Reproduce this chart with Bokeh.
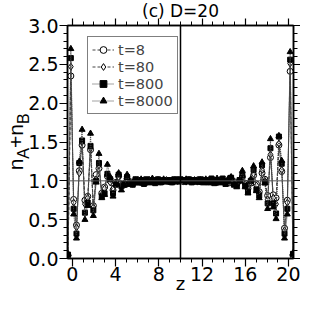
from bokeh.plotting import figure
from bokeh.models import (Range1d, LinearAxis, SingleIntervalTicker, FixedTicker, PrintfTickFormatter,
                          CustomJSTickFormatter, Span, Legend, LegendItem)
from bokeh.embed import file_html
from bokeh.resources import INLINE

# ---- data ----
z = [-0.40, -0.14, 0.12, 0.38, 0.64, 0.90, 1.16, 1.42, 1.68, 1.94,
     2.20, 2.46, 2.72, 2.98, 3.24, 3.50, 3.76, 4.02, 4.28, 4.54,
     4.80, 5.06, 5.32, 5.58, 5.84, 6.10, 6.36, 6.62, 6.88, 7.14,
     7.40, 7.66, 7.92, 8.18, 8.44, 8.70, 8.96, 9.22, 9.48, 9.74,
     10.00, 10.26, 10.52, 10.78, 11.04, 11.30, 11.56, 11.82, 12.08, 12.34,
     12.60, 12.86, 13.12, 13.38, 13.64, 13.90, 14.16, 14.42, 14.68, 14.94,
     15.20, 15.46, 15.72, 15.98, 16.24, 16.50, 16.76, 17.02, 17.28, 17.54,
     17.80, 18.06, 18.32, 18.58, 18.84, 19.10, 19.36, 19.62, 19.88, 20.14,
     20.40]

n_t8 = [0.04, 2.35, 0.76, 0.43, 1.13, 1.46, 0.75, 0.80, 1.40, 0.68,
        1.08, 1.16, 0.84, 0.92, 1.06, 1.00, 0.88, 0.98, 1.06, 0.96,
        0.95, 1.03, 0.99, 0.96, 1.01, 1.00, 0.98, 1.01, 0.99, 1.00,
        0.99, 1.00, 1.00, 0.99, 1.00, 1.00, 0.99, 1.00, 1.01, 1.00,
        1.00, 0.99, 1.00, 1.00, 0.99, 1.00, 1.01, 0.99, 1.00, 1.00,
        0.99, 1.00, 1.01, 0.98, 1.00, 1.01, 0.99, 0.97, 1.03, 0.99,
        0.95, 1.00, 1.05, 0.97, 0.90, 0.97, 1.07, 0.96, 0.86, 1.10,
        1.02, 0.81, 1.30, 0.82, 0.78, 1.46, 1.12, 0.39, 0.75, 2.41,
        0.04]

n_t80 = [0.05, 2.47, 0.72, 0.40, 1.10, 1.50, 0.70, 0.78, 1.42, 0.66,
         1.02, 1.20, 0.82, 0.90, 1.08, 0.98, 0.90, 0.97, 1.05, 0.95,
         0.97, 1.02, 0.98, 0.97, 1.00, 1.01, 0.99, 1.00, 0.98, 1.01,
         1.00, 0.99, 1.01, 0.99, 1.00, 1.01, 1.00, 0.99, 1.00, 1.00,
         1.01, 1.00, 0.99, 1.01, 1.00, 1.00, 0.99, 1.00, 1.01, 0.99,
         1.00, 1.01, 1.00, 0.99, 1.01, 1.00, 0.98, 0.98, 1.02, 0.98,
         0.96, 1.00, 1.06, 0.96, 0.89, 0.98, 1.09, 0.94, 0.84, 1.14,
         1.00, 0.76, 1.34, 0.78, 0.70, 1.48, 1.14, 0.36, 0.72, 2.51,
         0.05]

n_t800 = [0.05, 2.58, 0.64, 0.32, 1.23, 1.52, 0.59, 0.72, 1.45, 0.62,
          1.00, 1.23, 0.80, 0.84, 1.09, 1.02, 0.84, 0.95, 1.08, 0.93,
          0.96, 1.05, 0.97, 0.95, 1.02, 0.98, 1.01, 0.96, 1.02, 0.99,
          1.01, 0.97, 1.02, 0.98, 1.01, 0.99, 1.01, 0.98, 1.02, 0.99,
          1.02, 1.01, 0.99, 1.02, 0.98, 1.01, 0.99, 1.02, 0.98, 1.01,
          0.99, 1.03, 0.97, 1.01, 0.99, 1.03, 0.96, 1.00, 1.04, 0.95,
          0.94, 1.01, 1.07, 0.94, 0.86, 1.00, 1.14, 0.89, 0.81, 1.20,
          0.98, 0.71, 1.42, 0.71, 0.58, 1.57, 1.22, 0.32, 0.64, 2.56,
          0.06]

n_t8000 = [0.06, 2.70, 0.57, 0.26, 1.25, 1.66, 0.50, 0.68, 1.61, 0.55,
           0.98, 1.35, 0.78, 0.82, 1.21, 1.05, 0.80, 0.96, 1.10, 0.88,
           0.94, 1.08, 0.95, 0.97, 1.00, 0.97, 1.02, 0.98, 1.00, 0.97,
           1.03, 0.99, 1.00, 0.98, 1.02, 0.99, 1.00, 1.01, 0.99, 1.01,
           1.00, 1.00, 1.02, 0.99, 1.00, 1.01, 0.98, 1.01, 0.99, 1.02,
           0.97, 1.01, 0.99, 1.03, 0.97, 1.01, 0.98, 1.03, 1.05, 0.96,
           0.92, 1.00, 1.13, 0.92, 0.84, 1.02, 1.19, 0.87, 0.78, 1.24,
           0.97, 0.64, 1.54, 0.66, 0.51, 1.58, 1.26, 0.26, 0.57, 2.66,
           0.07]

series_labels = ["t=8", "t=80", "t=800", "t=8000"]
bulk_level = 1.0
mid_z = 10.0
title_text = "(c) D=20"
x_label = "z"
# y label n_A+n_B : main letters and subscripts on two parallel lines
y_label_main = "n\u2002+n\u2002"
y_label_sub = "\u2007\u2009A\u2003\u2002B"

FW, FH = 300, 296

p = figure(width=FW, height=FH, output_backend="svg", toolbar_location=None,
           x_range=Range1d(-0.45, 20.45), y_range=Range1d(0.0, 3.0),
           min_border_left=60, min_border_right=7, min_border_top=20, min_border_bottom=30)
p.xgrid.visible = False
p.ygrid.visible = False
p.outline_line_color = "black"
p.outline_line_width = 1.5

p.title.text = title_text
p.title.align = "center"
p.title.text_font = "DejaVu Sans"
p.title.text_font_size = "17px"
p.title.text_font_style = "normal"
p.title.text_color = "black"
p.title.standoff = -4

xt = SingleIntervalTicker(interval=4, num_minor_ticks=4)
yt = SingleIntervalTicker(interval=0.5, num_minor_ticks=5)

bottom_ax = p.below[0]
left_ax = p.left[0]
bottom_ax.ticker = xt
left_ax.ticker = yt
left_ax.formatter = PrintfTickFormatter(format="%.1f")
blank_fmt = CustomJSTickFormatter(code="return ''")
top_ax = LinearAxis(ticker=xt, formatter=blank_fmt)
right_ax = LinearAxis(ticker=yt, formatter=blank_fmt)
p.add_layout(top_ax, "above")
p.add_layout(right_ax, "right")


def style(ax, labels=True):
    ax.axis_line_width = 1.5
    ax.axis_line_color = "black"
    ax.major_tick_out = 8
    ax.major_tick_in = 0
    ax.minor_tick_out = 4
    ax.minor_tick_in = 0
    ax.major_tick_line_width = 1.2
    ax.minor_tick_line_width = 1
    ax.major_tick_line_color = "black"
    ax.minor_tick_line_color = "black"
    ax.major_label_text_font = "DejaVu Sans"
    ax.major_label_text_font_size = "19px"
    ax.major_label_text_color = "black"
    ax.major_label_standoff = 1
    if not labels:
        ax.major_label_text_font_size = "1px"
        ax.major_label_standoff = 0


style(bottom_ax)
style(left_ax)
style(top_ax, labels=False)
style(right_ax, labels=False)
right_ax.major_tick_out = 7
top_ax.major_tick_out = 7
bottom_ax.major_label_standoff = 0

# x label
bottom_ax.axis_label = x_label
bottom_ax.axis_label_text_font = "DejaVu Sans"
bottom_ax.axis_label_text_font_size = "18px"
bottom_ax.axis_label_text_font_style = "normal"
bottom_ax.axis_label_text_color = "black"
bottom_ax.axis_label_standoff = -11

# y label: subscripts on the inner axis, main letters on an outer label-only axis
left_ax.axis_label = y_label_sub
left_ax.axis_label_text_font = "Liberation Sans"
left_ax.axis_label_text_font_size = "16px"
left_ax.axis_label_text_font_style = "normal"
left_ax.axis_label_text_color = "black"
left_ax.axis_label_standoff = -7

ylab_ax = LinearAxis(ticker=FixedTicker(ticks=[]), axis_line_color=None,
                     major_tick_out=0, major_tick_in=0, minor_tick_out=0, minor_tick_in=0,
                     major_label_standoff=0, axis_label=y_label_main,
                     axis_label_text_font="Liberation Sans", axis_label_text_font_size="21px",
                     axis_label_text_font_style="normal", axis_label_text_color="black",
                     axis_label_standoff=-14)
p.add_layout(ylab_ax, "left")

p.add_layout(Span(location=bulk_level, dimension="width", line_color="#555555", line_width=1))
p.add_layout(Span(location=mid_z, dimension="height", line_color="black", line_width=1.5))

line_dashes = ["3 2", "3 2", "1 1", "1 1"]
markers = ["circle", "diamond", "square", "triangle"]
fills = ["white", "white", "black", "black"]
sizes = [6, 7, 5, 6]
data = [n_t8, n_t80, n_t800, n_t8000]
items = []
for lab, ys, dash, mk, fc, sz in zip(series_labels, data, line_dashes, markers, fills, sizes):
    l = p.line(z, ys, line_color="#444444", line_width=1, line_dash=dash)
    s = p.scatter(z, ys, marker=mk, size=sz, fill_color=fc, line_color="black", line_width=1)
    items.append(LegendItem(label=lab, renderers=[l, s]))

frame_h_est = 230
LEG_H = 4 * 17 + 8
legend = Legend(items=items, location=(20, frame_h_est - 10 - LEG_H))
legend.border_line_color = "black"
legend.border_line_width = 1.5
legend.background_fill_color = "white"
legend.background_fill_alpha = 1
legend.label_text_font = "DejaVu Sans"
legend.label_text_font_size = "14.5px"
legend.glyph_width = 22
legend.glyph_height = 17
legend.label_height = 17
legend.label_standoff = 4
legend.padding = 4
legend.spacing = 0
legend.margin = 0
p.add_layout(legend, "center")

open("out.html", "w").write(file_html(p, INLINE))
